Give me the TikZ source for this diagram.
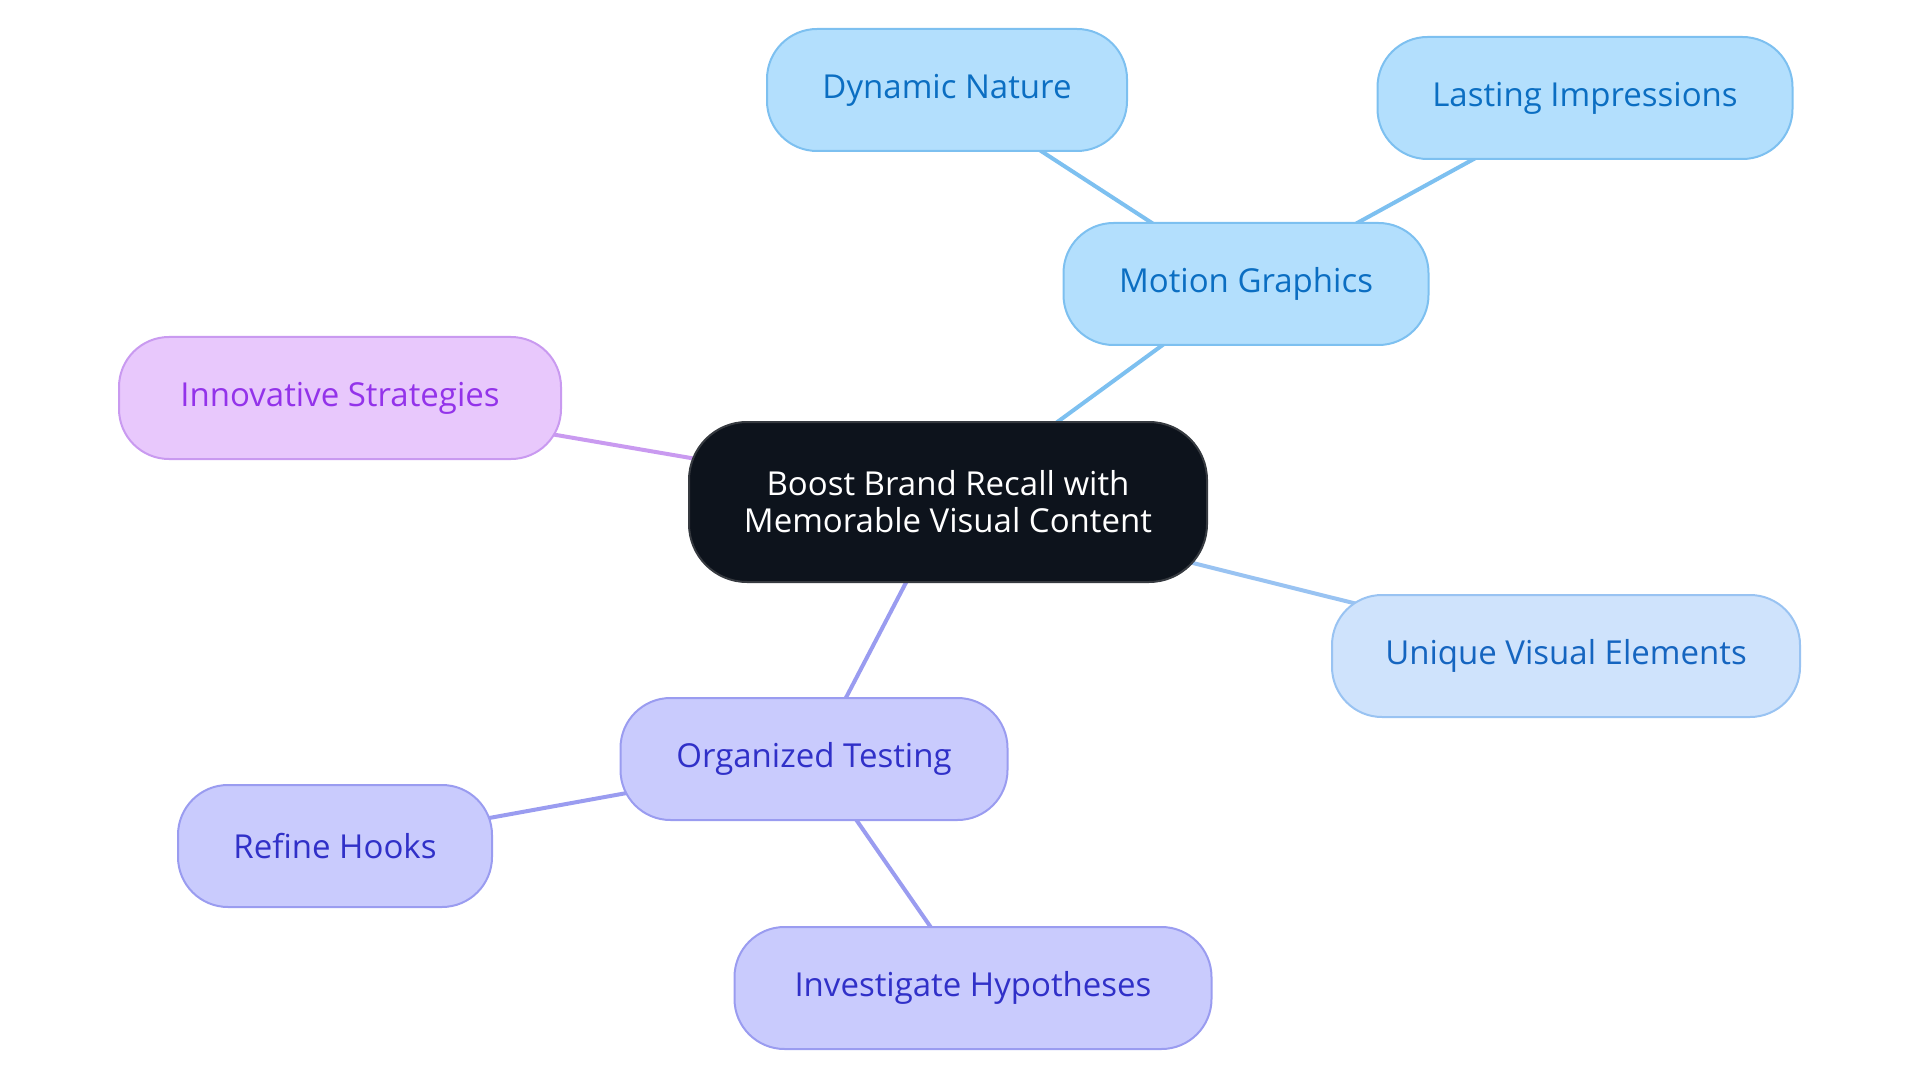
\documentclass[tikz,border=0pt]{standalone}
\usepackage{fontspec}
\setmainfont{Open Sans}
\usetikzlibrary{backgrounds}
\definecolor{cdark}{HTML}{0D131C}
\definecolor{cdarkb}{HTML}{363A40}
\definecolor{bfill}{HTML}{B3DFFD}
\definecolor{bline}{HTML}{7DC0F0}
\definecolor{btext}{HTML}{0B6EC2}
\definecolor{ufill}{HTML}{CFE3FC}
\definecolor{uline}{HTML}{99C3F2}
\definecolor{utext}{HTML}{1565C0}
\definecolor{pfill}{HTML}{E8C8FC}
\definecolor{pline}{HTML}{C99AF0}
\definecolor{ptext}{HTML}{9333EA}
\definecolor{ifill}{HTML}{C9CBFD}
\definecolor{iline}{HTML}{9A9CF0}
\definecolor{itext}{HTML}{3030C8}
\tikzset{
  pill/.style={rectangle, rounded corners=50pt, inner sep=0pt, line width=2pt, align=center,
    font=\fontsize{33}{37}\selectfont},
  leafsize/.style={minimum height=122pt},
  bluebox/.style={pill, leafsize, fill=bfill, draw=bline, text=btext},
  ubox/.style={pill, leafsize, fill=ufill, draw=uline, text=utext},
  pbox/.style={pill, leafsize, fill=pfill, draw=pline, text=ptext},
  ibox/.style={pill, leafsize, fill=ifill, draw=iline, text=itext},
  centralbox/.style={pill, rounded corners=58pt, fill=cdark, draw=cdarkb, text=white, minimum width=518pt, minimum height=160pt},
  link/.style={line width=4pt}
}
\begin{document}
\begin{tikzpicture}[x=1pt,y=-1pt]
\useasboundingbox (0,0) rectangle (1920,1083);
\node[centralbox] (c) at (948,502) {Boost Brand Recall with\\Memorable Visual Content};
\node[bluebox, minimum width=365pt] (mg) at (1246,284) {Motion Graphics};
\node[bluebox, minimum width=360pt] (dn) at (947,90) {Dynamic Nature};
\node[bluebox, minimum width=415pt] (li) at (1585,98) {Lasting Impressions};
\node[pbox, minimum width=442pt] (is) at (340,398) {Innovative Strategies};
\node[ubox, minimum width=468pt] (uv) at (1566,656) {Unique Visual Elements};
\node[ibox, minimum width=387pt] (ot) at (814,759) {Organized Testing};
\node[ibox, minimum width=314pt] (rh) at (335,846) {Refine Hooks};
\node[ibox, minimum width=477pt] (ih) at (973,988) {Investigate Hypotheses};
\begin{scope}[on background layer]
\draw[link, draw=bline] (c.center) -- (mg.center);
\draw[link, draw=bline] (mg.center) -- (dn.center);
\draw[link, draw=bline] (mg.center) -- (li.center);
\draw[link, draw=pline] (c.center) -- (is.center);
\draw[link, draw=uline] (c.center) -- (uv.center);
\draw[link, draw=iline] (c.center) -- (ot.center);
\draw[link, draw=iline] (ot.center) -- (rh.center);
\draw[link, draw=iline] (ot.center) -- (ih.center);
\end{scope}
\end{tikzpicture}
\end{document}
